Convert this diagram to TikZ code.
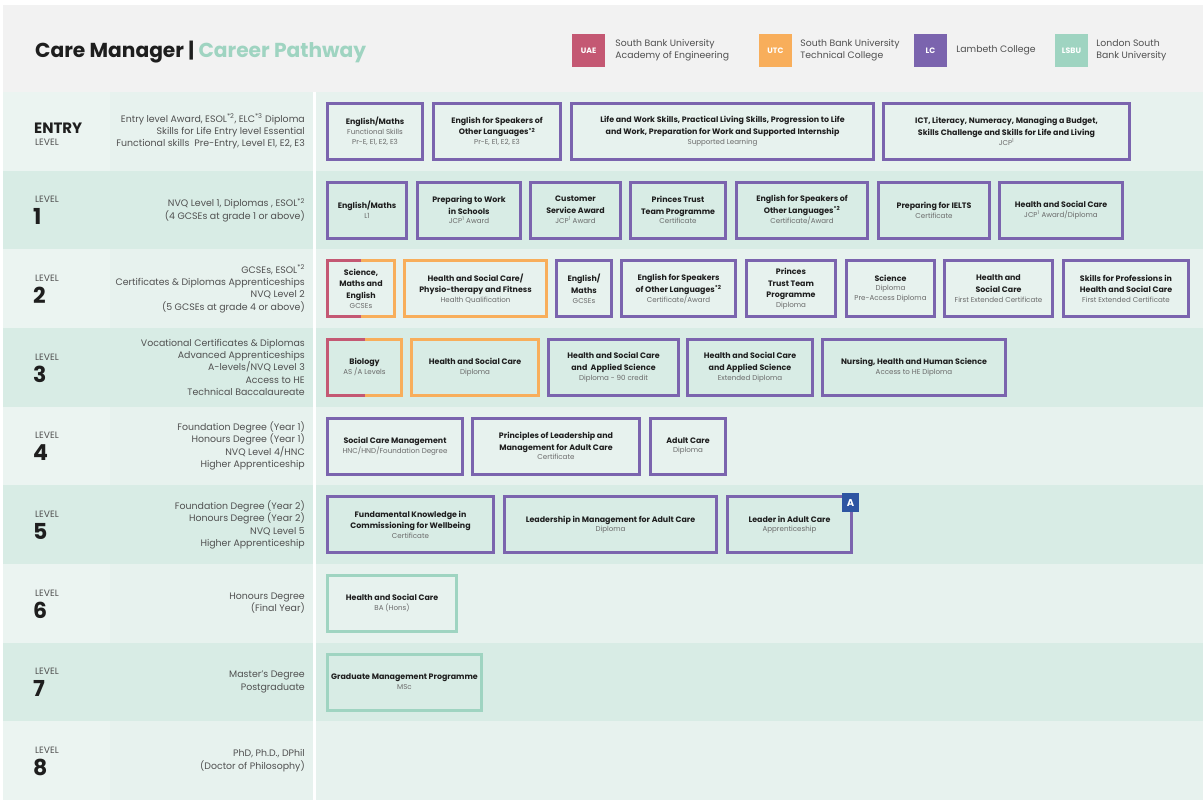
\documentclass[tikz,border=0pt]{standalone}
\usepackage{fontspec}
\setmainfont{Poppins}
\usetikzlibrary{positioning}

\definecolor{uae}{HTML}{C45873}
\definecolor{utc}{HTML}{F8AE5B}
\definecolor{lc}{HTML}{7B64AE}
\definecolor{lsbu}{HTML}{9FD4C1}
\definecolor{appr}{HTML}{2E55A2}
\definecolor{head}{HTML}{F2F2F2}
\definecolor{rowlight}{HTML}{E7F2EE}
\definecolor{collight}{HTML}{EBF4F1}
\definecolor{rowdark}{HTML}{D8ECE5}
\definecolor{txt}{HTML}{1E1E1E}
\definecolor{desctxt}{HTML}{505050}
\definecolor{subtxt}{HTML}{6A6A6A}

\newcommand{\sub}[1]{{\mdseries\color{subtxt}\fontsize{7.1}{8}\selectfont #1}}
\newcommand{\supx}[1]{\textsuperscript{#1}}

\begin{document}
\begin{tikzpicture}[x=1pt,y=-1pt]
  \tikzstyle{every node}=[inner sep=0pt]
  \useasboundingbox (0,0) rectangle (1203,800);

%% header
  \fill[head] (3,5) rectangle (1203,92);
  \node[anchor=base west,text=txt,font=\bfseries\fontsize{20.2}{24}\selectfont] (title) at (35,58)
    {Care Manager | \textcolor{lsbu}{Career Pathway}};

%% key
  \tikzstyle{keybox}=[minimum width=33pt,minimum height=33pt,text=white,font=\bfseries\fontsize{7.8}{9}\selectfont]
  \tikzstyle{keytxt}=[align=left,text=desctxt,font=\fontsize{9.3}{12}\selectfont]
  \node[keybox,fill=uae]  (key-uae)  at (588.5,50.5)  {UAE};
  \node[keytxt,right=10pt of key-uae]  (txt-uae)  {South Bank University\\Academy of Engineering};
  \node[keybox,fill=utc]  (key-utc)  at (775.5,50.5)  {UTC};
  \node[keytxt,right=8pt of key-utc]   (txt-utc)  {South Bank University\\Technical College};
  \node[keybox,fill=lc]   (key-lc)   at (930.5,50.5)  {LC};
  \node[keytxt,right=9pt of key-lc]    (txt-lc)   {Lambeth College};
  \node[keybox,fill=lsbu] (key-lsbu) at (1071.5,50.5) {LSBU};
  \node[keytxt,right=8pt of key-lsbu]  (txt-lsbu) {London South\\Bank University};

%% level rows
  \foreach \n/\rc/\cc in {0/rowlight/collight, 1/rowdark/rowdark, 2/rowlight/collight,
                          3/rowdark/rowdark,   4/rowlight/collight, 5/rowdark/rowdark,
                          6/rowlight/collight, 7/rowdark/rowdark,   8/rowlight/collight} {
    \fill[\rc] (3,{92+78.67*\n}) rectangle (1203,{92+78.67*(\n+1)});
    \fill[\cc] (3,{92+78.67*\n}) rectangle (110,{92+78.67*(\n+1)});
  }
  \fill[white] (313,92) rectangle (316,800);

%% level names
  \tikzstyle{lvword}=[anchor=west,text=desctxt,font=\fontsize{9.2}{10}\selectfont]
  \tikzstyle{lvnum}=[anchor=west,text=txt,font=\bfseries\fontsize{22}{24}\selectfont]
  \node[anchor=west,text=txt,font=\bfseries\fontsize{15}{16}\selectfont] (entry) at (34,128) {ENTRY};
  \node[lvword] (entry-lv) at (35,142) {LEVEL};
  \foreach \n in {1,...,8} {
    \node[lvword] (lv-\n)  at (35,{92+78.67*\n+29}) {LEVEL};
    \node[lvnum]  (num-\n) at (33,{92+78.67*\n+46}) {\n};
  }

%% level descriptions
  \tikzstyle{desc}=[anchor=east,align=right,text=desctxt,font=\fontsize{9.4}{12.4}\selectfont]
  \node[desc] (d-0) at (305,131.3) {Entry level Award, ESOL\supx{*2}, ELC\supx{*3} Diploma\\Skills for Life Entry level Essential\\Functional skills\ \ Pre-Entry, Level E1, E2, E3};
  \node[desc] (d-1) at (305,210)   {NVQ Level 1, Diplomas , ESOL\supx{*2}\\(4 GCSEs at grade 1 or above)};
  \node[desc] (d-2) at (305,288.7) {GCSEs, ESOL\supx{*2}\\Certificates \& Diplomas Apprenticeships\\NVQ Level 2\\(5 GCSEs at grade 4 or above)};
  \node[desc] (d-3) at (305,367.3) {Vocational Certificates \& Diplomas\\Advanced Apprenticeships\\A-levels/NVQ Level 3\\Access to HE\\Technical Baccalaureate};
  \node[desc] (d-4) at (305,446)   {Foundation Degree (Year 1)\\Honours Degree (Year 1)\\NVQ Level 4/HNC\\Higher Apprenticeship};
  \node[desc] (d-5) at (305,524.7) {Foundation Degree (Year 2)\\Honours Degree (Year 2)\\NVQ Level 5\\Higher Apprenticeship};
  \node[desc] (d-6) at (305,603.3) {Honours Degree\\(Final Year)};
  \node[desc] (d-7) at (305,682)   {Master's Degree\\Postgraduate};
  \node[desc] (d-8) at (305,760.7) {PhD, Ph.D., DPhil\\(Doctor of Philosophy)};

%% courses
  \tikzstyle{course}=[line width=3pt,outer sep=0pt,minimum height=56pt,align=center,text=txt,font=\bfseries\fontsize{7.9}{11.8}\selectfont]
  \tikzstyle{lcbox}=[course,draw=lc]
  \tikzstyle{utcbox}=[course,draw=utc]
  \tikzstyle{lsbubox}=[course,draw=lsbu]

  %% entry
  \node[lcbox,minimum width=95pt]  (e-1) at (375,131.3)    {English/Maths\\[-2pt]\sub{Functional Skills}\\[-2pt]\sub{Pr-E, E1, E2, E3}};
  \node[lcbox,minimum width=127pt] (e-2) at (497,131.3)    {English for Speakers of\\Other Languages\supx{*2}\\[-2pt]\sub{Pr-E, E1, E2, E3}};
  \node[lcbox,minimum width=302pt] (e-3) at (722.5,131.3)  {Life and Work Skills, Practical Living Skills, Progression to Life\\and Work, Preparation for Work and Supported Internship\\[-2pt]\sub{Supported Learning}};
  \node[lcbox,minimum width=246pt] (e-4) at (1006.5,131.3) {ICT, Literacy, Numeracy, Managing a Budget,\\Skills Challenge and Skills for Life and Living\\[-2pt]\sub{JCP\supx{1}}};

  %% level 1
  \node[lcbox,minimum width=79pt]  (c1-a) at (367,210)    {English/Maths\\[-2pt]\sub{L1}};
  \node[lcbox,minimum width=103pt] (c1-b) at (469,210)    {Preparing to Work\\in Schools\\[-2pt]\sub{JCP\supx{1} Award}};
  \node[lcbox,minimum width=90pt]  (c1-c) at (575.5,210)  {Customer\\Service Award\\[-2pt]\sub{JCP\supx{1} Award}};
  \node[lcbox,minimum width=95pt]  (c1-d) at (678,210)    {Princes Trust\\Team Programme\\[-2pt]\sub{Certificate}};
  \node[lcbox,minimum width=131pt] (c1-e) at (802,210)    {English for Speakers of\\Other Languages\supx{*2}\\[-2pt]\sub{Certificate/Award}};
  \node[lcbox,minimum width=111pt] (c1-f) at (934,210)    {Preparing for IELTS\\[-2pt]\sub{Certificate}};
  \node[lcbox,minimum width=123pt] (c1-g) at (1061,210)   {Health and Social Care\\[-2pt]\sub{JCP\supx{1} Award/Diploma}};

  %% level 2
  \node[utcbox,minimum width=67pt] (c2-a) at (361,288.7)    {Science,\\Maths and\\English\\[-2pt]\sub{GCSEs}};
  \draw[uae,line width=3pt] (c2-a.north) -- (c2-a.north west) -- (c2-a.south west) -- (c2-a.south);
  \node[utcbox,minimum width=142pt] (c2-b) at (475.5,288.7) {Health and Social Care/\\Physio-therapy and Fitness\\[-2pt]\sub{Health Qualification}};
  \node[lcbox,minimum width=55pt]  (c2-c) at (584,288.7)    {English/\\Maths\\[-2pt]\sub{GCSEs}};
  \node[lcbox,minimum width=114pt] (c2-d) at (678.5,288.7)  {English for Speakers\\of Other Languages\supx{*2}\\[-2pt]\sub{Certificate/Award}};
  \node[lcbox,minimum width=89pt]  (c2-e) at (791,288.7)    {Princes\\Trust Team\\Programme\\[-2pt]\sub{Diploma}};
  \node[lcbox,minimum width=88pt]  (c2-f) at (890.5,288.7)  {Science\\[-2pt]\sub{Diploma}\\[-2pt]\sub{Pre-Access Diploma}};
  \node[lcbox,minimum width=108pt] (c2-g) at (998.5,288.7)  {Health and\\Social Care\\[-2pt]\sub{First Extended Certificate}};
  \node[lcbox,minimum width=125pt] (c2-h) at (1126,288.7)   {Skills for Professions in\\Health and Social Care\\[-2pt]\sub{First Extended Certificate}};

  %% level 3
  \node[utcbox,minimum width=74pt] (c3-a) at (364.5,367.3)  {Biology\\[-2pt]\sub{AS /A Levels}};
  \draw[uae,line width=3pt] (c3-a.north) -- (c3-a.north west) -- (c3-a.south west) -- (c3-a.south);
  \node[utcbox,minimum width=127pt] (c3-b) at (475,367.3)   {Health and Social Care\\[-2pt]\sub{Diploma}};
  \node[lcbox,minimum width=130pt] (c3-c) at (613.5,367.3)  {Health and Social Care\\and\ \ Applied Science\\[-2pt]\sub{Diploma - 90 credit}};
  \node[lcbox,minimum width=125pt] (c3-d) at (750,367.3)    {Health and Social Care\\and Applied Science\\[-2pt]\sub{Extended Diploma}};
  \node[lcbox,minimum width=183pt] (c3-e) at (914,367.3)    {Nursing, Health and Human Science\\[-2pt]\sub{Access to HE Diploma}};

  %% level 4
  \node[lcbox,minimum width=135pt] (c4-a) at (395,446)      {Social Care Management\\[-2pt]\sub{HNC/HND/Foundation Degree}};
  \node[lcbox,minimum width=167pt] (c4-b) at (556,446)      {Principles of Leadership and\\Management for Adult Care\\[-2pt]\sub{Certificate}};
  \node[lcbox,minimum width=75pt]  (c4-c) at (688,446)      {Adult Care\\[-2pt]\sub{Diploma}};

  %% level 5
  \node[lcbox,minimum width=166pt] (c5-a) at (410.5,524.7)  {Fundamental Knowledge in\\Commissioning for Wellbeing\\[-2pt]\sub{Certificate}};
  \node[lcbox,minimum width=212pt] (c5-b) at (610.5,524.7)  {Leadership in Management for Adult Care\\[-2pt]\sub{Diploma}};
  \node[lcbox,minimum width=124pt] (c5-c) at (789.5,524.7)  {Leader in Adult Care\\[-2pt]\sub{Apprenticeship}};
  \node[fill=appr,text=white,minimum width=17pt,minimum height=19pt,font=\bfseries\fontsize{10}{12}\selectfont]
    (c5-c-appr) at ([xshift=-1pt,yshift=-6pt] c5-c.north east) {A};

  %% level 6 and 7
  \node[lsbubox,minimum width=129pt] (c6-a) at (392,603.3)  {Health and Social Care\\[-2pt]\sub{BA (Hons)}};
  \node[lsbubox,minimum width=154pt] (c7-a) at (404.5,682)  {Graduate Management Programme\\[-2pt]\sub{MSc}};
\end{tikzpicture}
\end{document}
